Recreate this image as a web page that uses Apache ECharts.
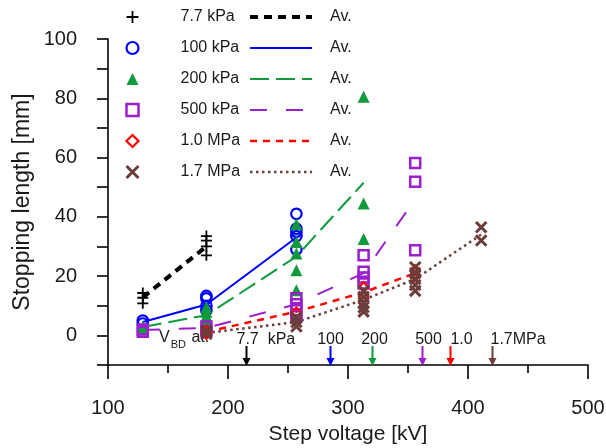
<!DOCTYPE html>
<html>
<head>
<meta charset="utf-8">
<script src="https://cdn.jsdelivr.net/npm/echarts@6/dist/echarts.min.js"></script>
<style>
  html, body { margin: 0; padding: 0; background: #ffffff; }
  #chart { width: 606px; height: 448px; }
</style>
</head>
<body>
<div id="chart"></div>
<script>
// Step voltages [kV] at which the stopping length was measured
const stepKV = [129, 182, 257, 313, 356, 411];

// Pressure cases (legend names)
const pressures = ['7.7 kPa', '100 kPa', '200 kPa', '500 kPa', '1.0 MPa', '1.7 MPa'];

// Individual stopping lengths [mm], one list per step voltage (index aligned with stepKV)
const pts7_7kPa = [[14.3, 12.7, 10.8], [33.5, 32, 30, 27]];
const pts100kPa = [[5, 4], [13.3, 12.5, 10, 8.5], [41, 36, 35, 33.5, 29]];
const pts200kPa = [[3, 2.2], [9.5, 8, 6.5, 5], [37.5, 31.5, 27.6, 22, 15.2], [80.5, 44.5, 32.5]];
const pts500kPa = [[2, 1.2], [3, 1.5], [12.5, 10.5, 8.5, 6.5], [27, 21.5, 19.5, 17.5], [58.2, 51.8, 28.7]];
const pts1_0MPa = [[], [1.5, 0.5], [7.7], [16.3, 13], [22, 20]];
const pts1_7MPa = [[], [1.5, 0.5], [6, 4.5, 3], [15, 13, 11, 9.5, 8], [23, 21, 19, 17, 15], [36.5, 32]];

// Averages [mm] per step voltage
const avg7_7kPa = [12.8, 30];
const avg100kPa = [4.5, 10.4, 33];
const avg200kPa = [2.8, 6.8, 26.6, 51.5];
const avg500kPa = [1.8, 2.5, 10.5, 21, 46];
const avg1_0MPa = [null, 1.2, 8, 14.5, 21];
const avg1_7MPa = [null, 0.8, 4.5, 12, 19, 34];

// Breakdown voltage V_BD [kV] for each pressure, with the labels written above the arrows
const vbdKV = [215, 285, 320, 362, 385, 420];
const vbdText = ['7.7  kPa', '100', '200', '500', '1.0', '1.7MPa'];

// Axis ticks
const xTicks = [100, 200, 300, 400, 500];
const yTicks = [0, 20, 40, 60, 80, 100];

// ---- styling ----
const colors = ['#000000', '#0000ff', '#0f9a3c', '#9b1fcf', '#ff0000', '#6b3d3a'];
const FONT = 'Liberation Sans, Arial, sans-serif';
const TXT = '#1a1a1a';

const allPts = [pts7_7kPa, pts100kPa, pts200kPa, pts500kPa, pts1_0MPa, pts1_7MPa];
const allAvg = [avg7_7kPa, avg100kPa, avg200kPa, avg500kPa, avg1_0MPa, avg1_7MPa];

const plusPath = 'path://M0,5L10,5M5,0L5,10';
const crossPath = 'path://M0,0L10,10M0,10L10,0';

const markerStyle = [
  { symbol: plusPath, size: 11, itemStyle: { color: 'rgba(0,0,0,0)', borderColor: colors[0], borderWidth: 1.8, opacity: 1 } },
  { symbol: 'circle', size: 10.5, itemStyle: { color: 'rgba(0,0,0,0)', borderColor: colors[1], borderWidth: 2.2, opacity: 1 } },
  { symbol: 'triangle', size: 12, itemStyle: { color: colors[2], borderWidth: 0, opacity: 1 } },
  { symbol: 'rect', size: 10, itemStyle: { color: 'rgba(0,0,0,0)', borderColor: colors[3], borderWidth: 2.5, opacity: 1 } },
  { symbol: 'diamond', size: [9, 10], itemStyle: { color: 'rgba(0,0,0,0)', borderColor: colors[4], borderWidth: 2.2, opacity: 1 } },
  { symbol: crossPath, size: 10.5, itemStyle: { color: 'rgba(0,0,0,0)', borderColor: colors[5], borderWidth: 3, opacity: 1 } }
];

const lineStyles = [
  { color: colors[0], width: 4, type: [8, 6] },
  { color: colors[1], width: 2, type: 'solid' },
  { color: colors[2], width: 2, type: [19, 7] },
  { color: colors[3], width: 2, type: [17, 19] },
  { color: colors[4], width: 2.5, type: [7, 6] },
  { color: colors[5], width: 2.5, type: [2.5, 3.5] }
];

// horizontal shift of each V_BD label relative to its arrow, and its alignment
const vbdLabelShift = [-10, 0, 2, 6, 11, -2];
const vbdLabelAlign = ['left', 'center', 'center', 'center', 'center', 'left'];

const series = [];

// Average lines
allAvg.forEach((avg, k) => {
  series.push({
    name: pressures[k] + ' Av.',
    type: 'line',
    symbol: 'none',
    silent: true,
    animation: false,
    z: 2,
    lineStyle: lineStyles[k],
    data: avg.map((v, i) => (v === null ? null : [stepKV[i], v])).filter(d => d !== null)
  });
});

// Individual measurements
allPts.forEach((pts, k) => {
  const data = [];
  pts.forEach((list, i) => list.forEach(v => data.push([stepKV[i], v])));
  series.push({
    name: pressures[k],
    type: 'scatter',
    symbol: markerStyle[k].symbol,
    symbolSize: markerStyle[k].size,
    itemStyle: markerStyle[k].itemStyle,
    emphasis: { disabled: true },
    animation: false,
    z: 3 + k,
    data: data
  });
});

// Breakdown-voltage arrows pointing at the voltage axis
const ARROW_LEN = 20;
series.push({
  type: 'custom',
  silent: true,
  animation: false,
  z: 10,
  data: vbdKV.map((v, i) => [v, -10, i]),
  renderItem: function (params, api) {
    const i = api.value(2);
    const p = api.coord([api.value(0), api.value(1)]);
    const x = Math.round(p[0]) + 0.5;
    const yb = p[1] + 1;
    const c = colors[i];
    return {
      type: 'group',
      children: [
        { type: 'line', shape: { x1: x, y1: yb - ARROW_LEN, x2: x, y2: yb - 6 },
          style: { stroke: c, lineWidth: 2 } },
        { type: 'polygon', shape: { points: [[x - 4, yb - 8], [x + 4, yb - 8], [x, yb]] },
          style: { fill: c } },
        { type: 'text', x: x + vbdLabelShift[i], y: yb - ARROW_LEN - 6,
          style: { text: vbdText[i], fill: TXT, font: '16px ' + FONT,
                   align: vbdLabelAlign[i], verticalAlign: 'middle' } }
      ]
    };
  }
});

const chart = echarts.init(document.getElementById('chart'), null, { renderer: 'canvas' });

chart.setOption({
  backgroundColor: '#ffffff',
  animation: false,
  textStyle: { fontFamily: FONT },
  grid: { left: 108, right: 18, top: 39, bottom: 83, containLabel: false, outerBoundsMode: 'none' },
  xAxis: {
    type: 'value',
    min: xTicks[0], max: xTicks[xTicks.length - 1], interval: 100,
    name: 'Step voltage [kV]',
    nameLocation: 'middle', nameGap: 59, nameMoveOverlap: false,
    nameTextStyle: { fontSize: 21, color: TXT, fontFamily: FONT },
    axisLine: { show: true, onZero: false, lineStyle: { color: '#000', width: 1.6 } },
    axisTick: { show: true, inside: false, length: 14, lineStyle: { color: '#000', width: 1.6 } },
    minorTick: { show: true, splitNumber: 2, length: 8, lineStyle: { color: '#000', width: 1.6 } },
    splitLine: { show: false },
    axisLabel: { fontSize: 20, color: TXT, margin: 33, fontFamily: FONT,
                 formatter: v => (xTicks.indexOf(v) >= 0 ? String(v) : '') }
  },
  yAxis: {
    type: 'value',
    min: -10, max: 100, interval: 10,
    name: 'Stopping length [mm]',
    nameLocation: 'middle', nameGap: 74, nameMoveOverlap: false,
    nameTextStyle: { fontSize: 23, color: TXT, fontFamily: FONT },
    axisLine: { show: true, onZero: false, lineStyle: { color: '#000', width: 1.6 } },
    axisTick: { show: true, inside: false, length: 11, lineStyle: { color: '#000', width: 1.6 } },
    splitLine: { show: false },
    axisLabel: { fontSize: 20, color: TXT, margin: 31, fontFamily: FONT,
                 formatter: v => (yTicks.indexOf(v) >= 0 ? String(v) : '') }
  },
  legend: [
    {
      orient: 'vertical', left: 125, top: 9, padding: 0,
      itemWidth: 12, itemHeight: 12, itemGap: 15,
      selectedMode: false,
      formatter: name => '{t|' + name + '}',
      textStyle: { rich: { t: { fontSize: 16, lineHeight: 16, color: TXT, fontFamily: FONT, padding: [0, 0, 0, 37] } } },
      data: pressures.map((n, k) => ({
        name: n,
        icon: markerStyle[k].symbol,
        itemStyle: Object.assign({}, markerStyle[k].itemStyle,
          { borderWidth: markerStyle[k].itemStyle.borderWidth || 0 })
      }))
    },
    {
      orient: 'vertical', left: 248, top: 9, padding: 0,
      itemWidth: 62, itemHeight: 12, itemGap: 15,
      selectedMode: false,
      formatter: () => '{t|Av.}',
      textStyle: { rich: { t: { fontSize: 16, lineHeight: 16, color: TXT, fontFamily: FONT, padding: [0, 0, 0, 13] } } },
      data: pressures.map((n, k) => ({
        name: n + ' Av.',
        itemStyle: { color: 'rgba(0,0,0,0)', borderWidth: 0, opacity: 0 },
        lineStyle: { color: lineStyles[k].color, width: lineStyles[k].width, type: lineStyles[k].type }
      }))
    }
  ],
  graphic: [
    {
      type: 'text', left: 159, top: 330, silent: true,
      style: {
        text: '{v|V}{s|BD}{v| at:}',
        rich: {
          v: { fontSize: 16, fontFamily: FONT, fill: TXT, color: TXT, verticalAlign: 'bottom', lineHeight: 18 },
          s: { fontSize: 11, fontFamily: FONT, fill: TXT, color: TXT, verticalAlign: 'bottom', lineHeight: 12, padding: [0, 1, -4, 1] }
        }
      }
    }
  ],
  series: series
});
</script>
</body>
</html>
